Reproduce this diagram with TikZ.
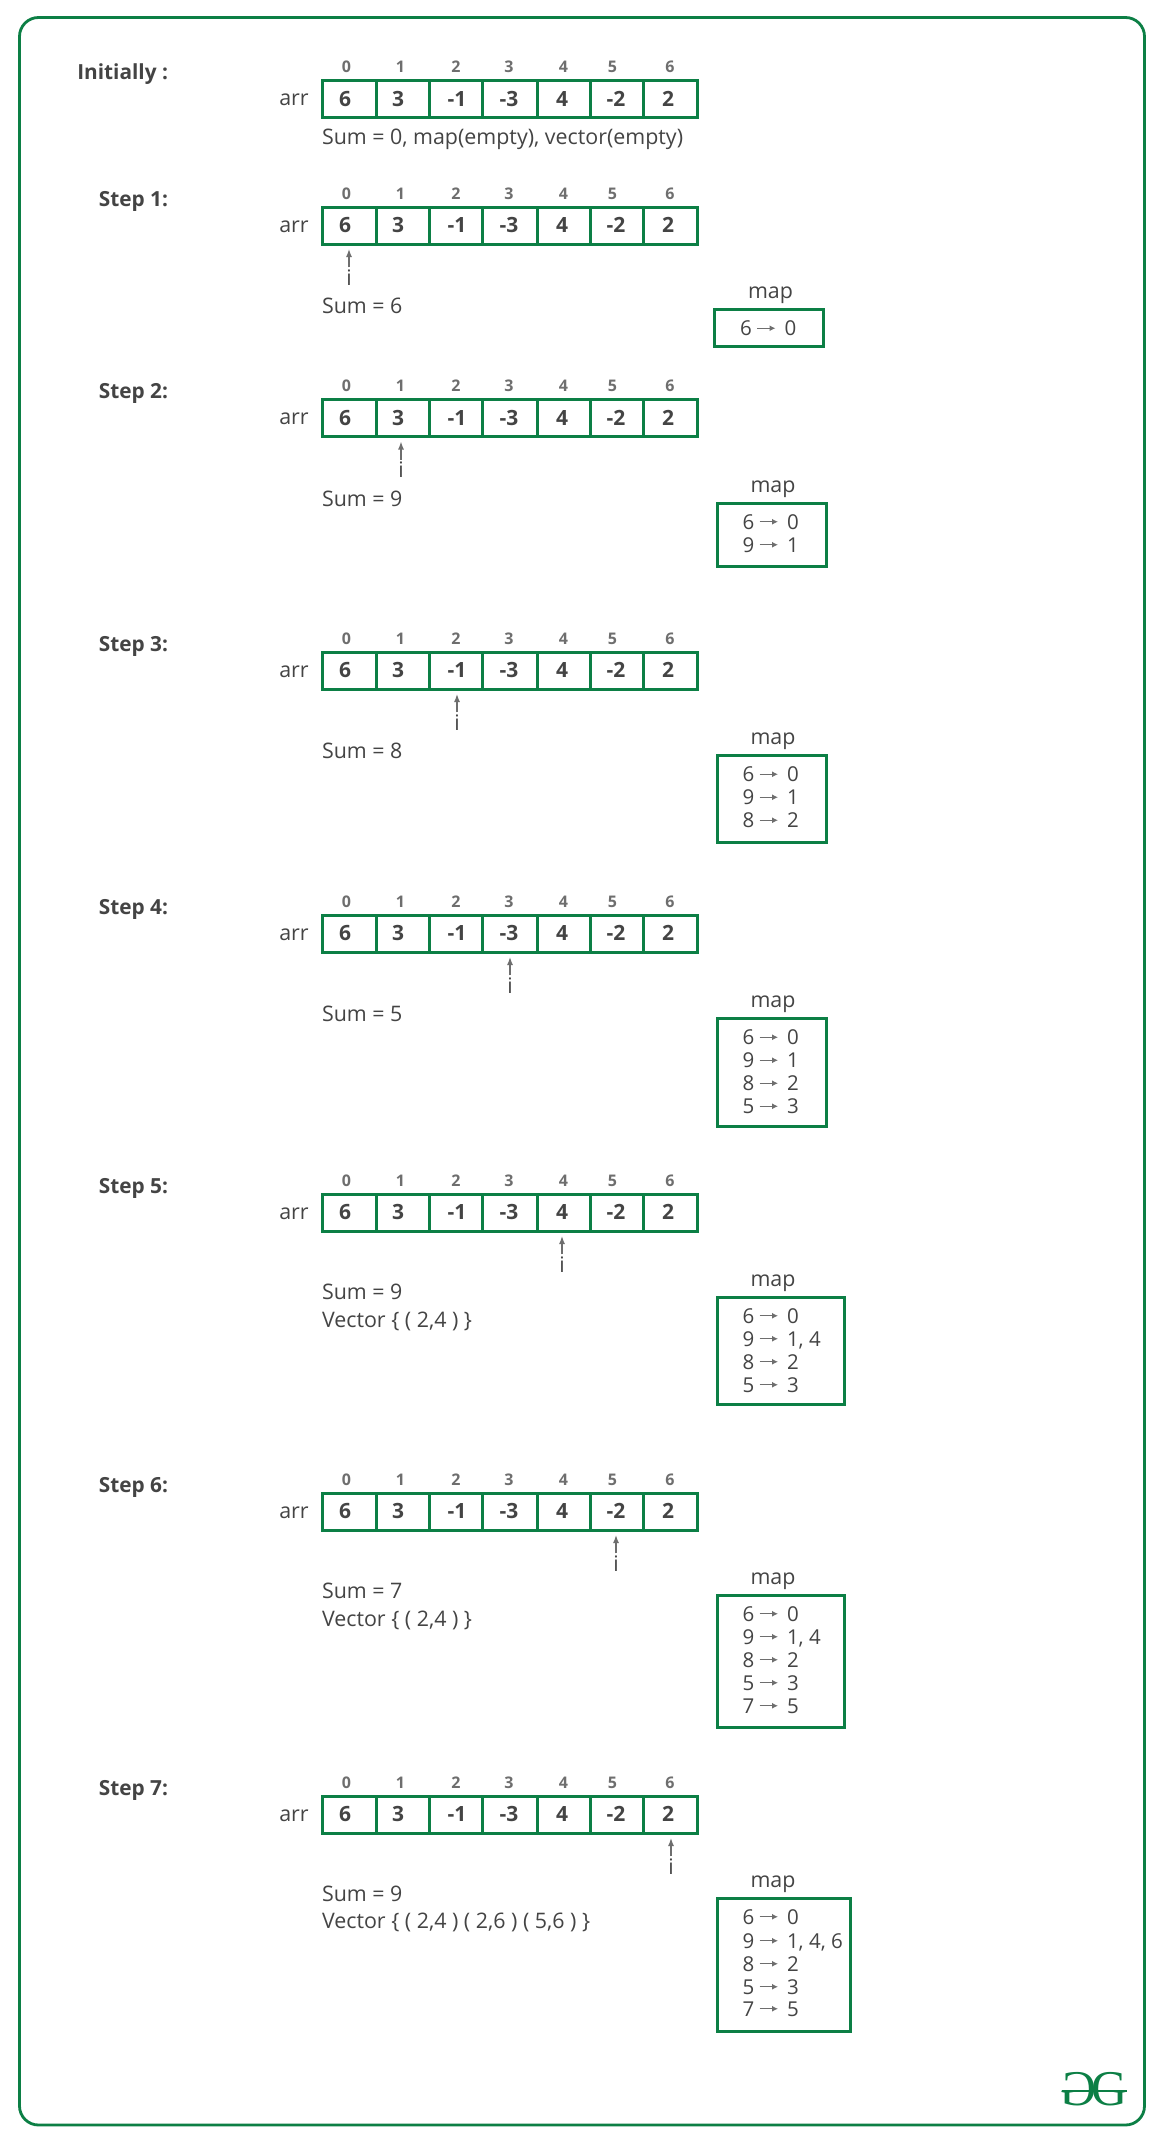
\documentclass[tikz,border=0pt]{standalone}
\usepackage{fontspec}
\usepackage{graphicx}
\setmainfont{Open Sans}
\newfontfamily\logofont{Liberation Serif}
\usetikzlibrary{arrows.meta}
\definecolor{gfg}{HTML}{0C7F45}
\definecolor{ink}{HTML}{444444}
\definecolor{soft}{HTML}{6E6E6E}
\tikzset{
  x=1pt,y=-1pt,
  txt/.style={inner sep=0pt,outer sep=0pt,text=ink,font=\fontsize{21.4}{24}\selectfont},
  steplabel/.style={txt,anchor=base east,font=\fontsize{20.8}{24}\selectfont\bfseries},
  cellbox/.style={draw=gfg,line width=3pt,inner sep=0pt,outer sep=0pt,anchor=north west,minimum height=37pt},
  valtxt/.style={txt,anchor=base,font=\fontsize{21}{24}\selectfont\bfseries},
  idxtxt/.style={inner sep=0pt,outer sep=0pt,anchor=base,text=soft,font=\fontsize{16}{18}\selectfont\bfseries},
  sumtxt/.style={txt,anchor=base west},
  mapbox/.style={draw=gfg,line width=3pt,inner sep=0pt,outer sep=0pt,anchor=north west},
  maptxt/.style={txt,anchor=base west,text height=14.5pt,text depth=0pt,font=\fontsize{20.5}{24}\selectfont},
  ptr/.style={draw=soft,line width=1.4pt,-{Latex[length=8pt,width=6pt]}},
  maparrow/.style={draw=soft,line width=1.3pt,-{Latex[length=6pt,width=6pt]}},
}
% #1 id, #2 top of the array, #3 label
\newcommand{\ArrRow}[3]{
  \node[steplabel] (#1-label) at (168,#2-1) {#3};
  \node[txt,anchor=base] (#1-arr) at (294,#2+25) {arr};
  \foreach \n/\a/\b/\vx/\ix/\v in {0/322/376/345/346.5/6,1/376/429/398/400.5/3,2/429/482/457/456/-1,3/482/537/509/509/-3,4/537/590/562/563.5/4,5/590/643/616/612.5/-2,6/643/697/668/670/2}{
    \node[cellbox,minimum width={\b-\a}] (#1-c\n) at (\a,#2) {};
    \node[valtxt] (#1-v\n) at (\vx,#2+25.5) {\v};
    \node[idxtxt] (#1-x\n) at (\ix,#2-8) {\n};
  }
}
% #1 id, #2 top of the array, #3 x, #4 cell index
\newcommand{\Ptr}[4]{
  \node[txt,anchor=base] (#1-i) at (#3,#2+78) {i};
  \draw[ptr,shorten <=2pt,shorten >=5pt] (#1-i.north) -- (#1-i.north |- #1-c#4.south);
}
% #1 id, #2 left, #3 right, #4 top, #5 bottom, #6 rows
\newcommand{\MapBox}[6]{
  \node[mapbox,minimum width={#3-#2},minimum height={#5-#4}] (#1-map) at (#2,#4) {};
  \node[txt,anchor=base] (#1-maplabel) at (#2+56,#4-11) {map};
  \foreach \r/\k/\w in {#6}{
    \node[maptxt] (#1-k\r) at (#2+25.5,#4+\r+7) {\k};
    \node[maptxt] (#1-w\r) at (#2+70,#4+\r+7) {\w};
    \draw[maparrow,shorten <=5.5pt,shorten >=9pt] (#1-k\r.east) -- (#1-w\r.west);
  }
}
\begin{document}
\begin{tikzpicture}
\useasboundingbox (0,0) rectangle (1161,2138);
\fill[white] (0,0) rectangle (1161,2138);
\draw[gfg,line width=2.8pt,rounded corners=19pt] (19.5,17.5) rectangle (1144.5,2125);

\ArrRow{s0}{81}{Initially :}
\node[sumtxt] (s0-sum) at (322,145) {Sum = 0, map(empty), vector(empty)};

\ArrRow{s1}{207}{Step 1:}
\Ptr{s1}{207}{349}{0}
\node[sumtxt] (s1-sum) at (322,313) {Sum = 6};
\MapBox{s1}{714.5}{823.5}{309.5}{346.5}{19/6/0}

\ArrRow{s2}{399.5}{Step 2:}
\Ptr{s2}{399.5}{401}{1}
\node[sumtxt] (s2-sum) at (322,506.5) {Sum = 9};
\MapBox{s2}{717}{826}{503}{566}{19/6/0,42/9/1}

\ArrRow{s3}{652}{Step 3:}
\Ptr{s3}{652}{457}{2}
\node[sumtxt] (s3-sum) at (322,758.5) {Sum = 8};
\MapBox{s3}{717}{826}{755.5}{842.5}{19/6/0,42/9/1,65/8/2}

\ArrRow{s4}{915}{Step 4:}
\Ptr{s4}{915}{510}{3}
\node[sumtxt] (s4-sum) at (322,1021.5) {Sum = 5};
\MapBox{s4}{717}{826}{1018.5}{1126}{19/6/0,42/9/1,65/8/2,88/5/3}

\ArrRow{s5}{1194}{Step 5:}
\Ptr{s5}{1194}{562}{4}
\node[sumtxt] (s5-sum) at (322,1299.5) {Sum = 9};
\node[sumtxt] (s5-vec) at (322,1327) {Vector \{ ( 2,4 ) \}};
\MapBox{s5}{717}{844}{1297}{1404.5}{19/6/0,42/9/{1, 4},65/8/2,88/5/3}

\ArrRow{s6}{1493}{Step 6:}
\Ptr{s6}{1493}{616}{5}
\node[sumtxt] (s6-sum) at (322,1598.5) {Sum = 7};
\node[sumtxt] (s6-vec) at (322,1626) {Vector \{ ( 2,4 ) \}};
\MapBox{s6}{717}{844}{1595}{1727.5}{19/6/0,42/9/{1, 4},65/8/2,88/5/3,111/7/5}

\ArrRow{s7}{1796}{Step 7:}
\Ptr{s7}{1796}{671}{6}
\node[sumtxt] (s7-sum) at (322,1901) {Sum = 9};
\node[sumtxt] (s7-vec) at (322,1928) {Vector \{ ( 2,4 ) ( 2,6 ) ( 5,6 ) \}};
\MapBox{s7}{717}{850}{1898}{2031}{19/6/0,43/9/{1, 4, 6},66/8/2,89/5/3,111/7/5}

% logo
\node[inner sep=0pt,text=gfg,font=\logofont\fontsize{50}{50}\selectfont,anchor=base] (logoL) at (1078,2105) {\reflectbox{G}};
\node[inner sep=0pt,text=gfg,font=\logofont\fontsize{50}{50}\selectfont,anchor=base] (logoR) at (1110,2105) {G};
\fill[gfg] (1062,2090) rectangle (1127,2092);
\end{tikzpicture}
\end{document}
